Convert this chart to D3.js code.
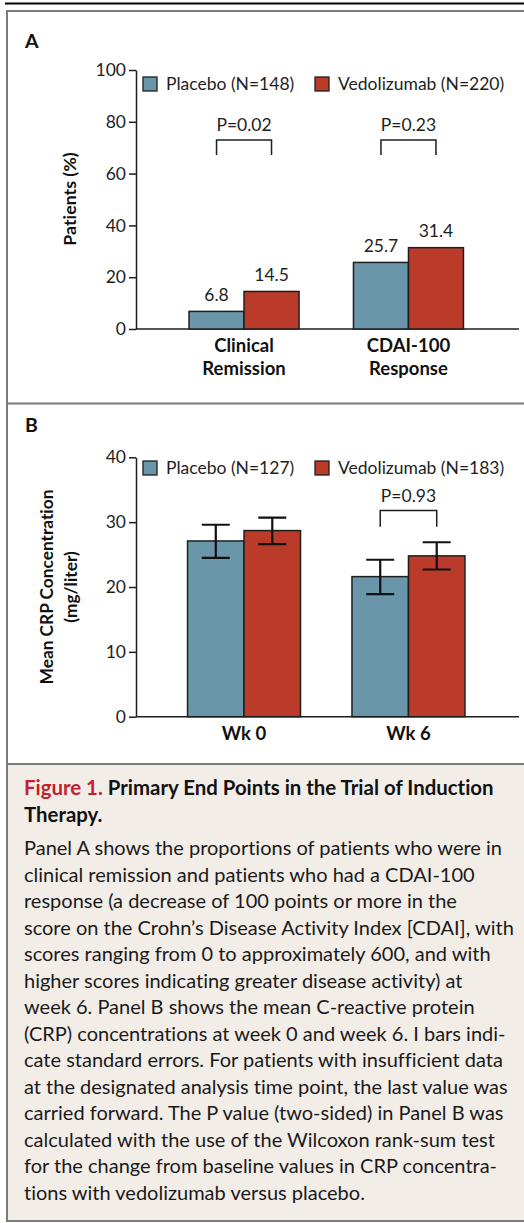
<!DOCTYPE html>
<html>
<head>
<meta charset="utf-8">
<script src="https://cdn.jsdelivr.net/npm/d3@7"></script>
<style>
  body { margin: 0; background: #fff; }
  svg { display: block; font-family: Lato, "Open Sans", sans-serif; font-variant-ligatures: none; }
</style>
</head>
<body>
<svg id="fig" width="524" height="1223"></svg>
<script>
// panel A data
const groupsA = ["Clinical|Remission", "CDAI-100|Response"];
const placeboA = [6.8, 25.7];
const vedoA = [14.5, 31.4];
const pA = ["P=0.02", "P=0.23"];
const ticksA = [0, 20, 40, 60, 80, 100];
const legendA = ["Placebo (N=148)", "Vedolizumab (N=220)"];

// panel B data
const groupsB = ["Wk 0", "Wk 6"];
const placeboB = [27.1, 21.6];
const placeboLoB = [24.5, 18.9];
const placeboHiB = [29.6, 24.2];
const vedoB = [28.7, 24.8];
const vedoLoB = [26.6, 22.7];
const vedoHiB = [30.7, 26.9];
const pB = ["", "P=0.93"];
const ticksB = [0, 10, 20, 30, 40];
const legendB = ["Placebo (N=127)", "Vedolizumab (N=183)"];

const caption = [
  "Panel A shows the proportions of patients who were in",
  "clinical remission and patients who had a CDAI-100",
  "response (a decrease of 100 points or more in the",
  "score on the Crohn\u2019s Disease Activity Index [CDAI], with",
  "scores ranging from 0 to approximately 600, and with",
  "higher scores indicating greater disease activity) at",
  "week 6. Panel B shows the mean C-reactive protein",
  "(CRP) concentrations at week 0 and week 6. I bars indi-",
  "cate standard errors. For patients with insufficient data",
  "at the designated analysis time point, the last value was",
  "carried forward. The P value (two-sided) in Panel B was",
  "calculated with the use of the Wilcoxon rank-sum test",
  "for the change from baseline values in CRP concentra-",
  "tions with vedolizumab versus placebo."
];

const BLUE = "#6a96a9";
const RED = "#bb3b2a";
const INK = "#1e1e1e";
const FRAME = "#7b7b7b";
const FS = 17.5;

const svg = d3.select("#fig");

// frame
svg.append("line").attr("x1", 5).attr("x2", 524).attr("y1", 3.5).attr("y2", 3.5)
  .attr("stroke", "#000").attr("stroke-width", 2);
svg.append("rect").attr("x", 7).attr("y", 764).attr("width", 530).attr("height", 457)
  .attr("fill", "#f3ede8");
svg.append("rect").attr("x", 7).attr("y", 11).attr("width", 530).attr("height", 1210)
  .attr("fill", "none").attr("stroke", FRAME).attr("stroke-width", 2);
[403.5, 764].forEach(yy => {
  svg.append("line").attr("x1", 7).attr("x2", 524).attr("y1", yy).attr("y2", yy)
    .attr("stroke", FRAME).attr("stroke-width", 2);
});

function panel(opt) {
  const g = svg.append("g");
  const y = d3.scaleLinear().domain([0, opt.max]).range([opt.y0, opt.y1]);
  const x = d3.scalePoint().domain(opt.groups).range([136, 516.5]).padding(0.657);
  const s = d3.scaleBand().domain(["placebo", "vedo"]).range([-opt.bw, opt.bw]);

  g.append("text").attr("x", 25).attr("y", opt.labelY).text(opt.letter)
    .attr("font-weight", "bold").attr("font-size", 19.5).attr("fill", "#111");

  const ax = g.append("g").attr("transform", "translate(136,0)")
    .call(d3.axisLeft(y).tickValues(opt.ticks).tickSize(7).tickSizeOuter(0).tickPadding(3));
  ax.attr("font-family", null).attr("font-size", null);
  ax.selectAll("path, line").attr("stroke", INK).attr("stroke-width", 1.5);
  ax.selectAll("text").attr("font-size", FS).attr("fill", INK);

  g.append("line").attr("x1", 136).attr("x2", 519).attr("y1", y(0)).attr("y2", y(0))
    .attr("stroke", INK).attr("stroke-width", 1.5);

  const rows = opt.groups.map((c, i) => ({ c, i }));
  const series = [
    { key: "placebo", vals: opt.placebo, lo: opt.placeboLo, hi: opt.placeboHi, fill: BLUE },
    { key: "vedo", vals: opt.vedo, lo: opt.vedoLo, hi: opt.vedoHi, fill: RED }
  ];
  series.forEach(se => {
    g.selectAll(".bar-" + se.key).data(rows).enter().append("rect")
      .attr("x", d => x(d.c) + s(se.key))
      .attr("width", s.bandwidth())
      .attr("y", d => y(se.vals[d.i]))
      .attr("height", d => y(0) - y(se.vals[d.i]))
      .attr("fill", se.fill).attr("stroke", INK).attr("stroke-width", 1.5);

    if (opt.values) {
      g.selectAll(".val-" + se.key).data(rows).enter().append("text")
        .attr("x", d => x(d.c) + s(se.key) + s.bandwidth() / 2)
        .attr("y", d => y(se.vals[d.i]) - 10.5)
        .attr("text-anchor", "middle").attr("font-size", FS).attr("fill", INK)
        .text(d => se.vals[d.i].toFixed(1));
    }
    if (se.lo) {
      rows.forEach(d => {
        const cx = x(d.c) + s(se.key) + s.bandwidth() / 2;
        const path = d3.path();
        path.moveTo(cx, y(se.lo[d.i])); path.lineTo(cx, y(se.hi[d.i]));
        path.moveTo(cx - 14, y(se.hi[d.i])); path.lineTo(cx + 14, y(se.hi[d.i]));
        path.moveTo(cx - 14, y(se.lo[d.i])); path.lineTo(cx + 14, y(se.lo[d.i]));
        g.append("path").attr("d", path.toString()).attr("fill", "none")
          .attr("stroke", "#111").attr("stroke-width", 2.2);
      });
    }
  });

  // p-value brackets
  rows.filter(d => opt.p[d.i]).forEach(d => {
    const xl = x(d.c) + s("placebo") + s.bandwidth() / 2;
    const xr = x(d.c) + s("vedo") + s.bandwidth() / 2;
    const top = y(opt.brTop), bot = y(opt.brBot);
    g.append("path").attr("d", `M${xl},${bot}V${top}H${xr}V${bot}`)
      .attr("fill", "none").attr("stroke", INK).attr("stroke-width", 1.5);
    g.append("text").attr("x", (xl + xr) / 2).attr("y", top - 8.5)
      .attr("text-anchor", "middle").attr("font-size", FS).attr("fill", INK)
      .text(opt.p[d.i]);
  });

  // category labels
  rows.forEach(d => {
    d.c.split("|").forEach((line, k) => {
      g.append("text").attr("x", x(d.c)).attr("y", opt.catY + k * 23)
        .attr("text-anchor", "middle").attr("font-weight", "bold")
        .attr("font-size", 18.5).attr("fill", "#111").text(line);
    });
  });

  // legend
  const lx = [143, 315];
  opt.legend.forEach((t, k) => {
    g.append("rect").attr("x", lx[k]).attr("y", opt.legY - 7).attr("width", 14).attr("height", 14)
      .attr("fill", k ? RED : BLUE).attr("stroke", INK).attr("stroke-width", 1.3);
    g.append("text").attr("x", lx[k] + 23).attr("y", opt.legY + 6)
      .attr("font-size", FS).attr("fill", INK).text(t);
  });

  // y label
  opt.ylabel.forEach((t, k) => {
    g.append("text").attr("transform", `translate(${opt.ylabX[k]},${opt.ylabY}) rotate(-90)`)
      .attr("text-anchor", "middle").attr("font-weight", "bold").attr("font-size", opt.ylabFs)
      .attr("fill", "#111").text(t);
  });
}

panel({
  letter: "A", labelY: 48, groups: groupsA, max: 100, y0: 329, y1: 70, bw: 55,
  ticks: ticksA, placebo: placeboA, vedo: vedoA, values: true,
  p: pA, brTop: 73, brBot: 67.2, catY: 352, legend: legendA, legY: 84,
  ylabel: ["Patients (%)"], ylabX: [75.5], ylabY: 199, ylabFs: 17.8
});

panel({
  letter: "B", labelY: 432, groups: groupsB, max: 40, y0: 716.7, y1: 457.3, bw: 56.5,
  ticks: ticksB, placebo: placeboB, vedo: vedoB, values: false,
  placeboLo: placeboLoB, placeboHi: placeboHiB, vedoLo: vedoLoB, vedoHi: vedoHiB,
  p: pB, brTop: 31.8, brBot: 29.3, catY: 739.5, legend: legendB, legY: 468,
  ylabel: ["Mean CRP Concentration", "(mg/liter)"], ylabX: [52.5, 77], ylabY: 587, ylabFs: 17.3
});

// caption
const cap = svg.append("g").attr("font-size", 20);
const title = cap.append("text").attr("x", 24).attr("y", 795).attr("font-weight", "bold")
  .attr("font-size", 20.4);
title.append("tspan").attr("fill", "#c4202f").text("Figure 1. ");
title.append("tspan").attr("fill", "#111").text("Primary End Points in the Trial of Induction");
cap.append("text").attr("x", 24).attr("y", 821.5).attr("font-weight", "bold")
  .attr("font-size", 20.4).attr("fill", "#111").text("Therapy.");
cap.selectAll(".line").data(caption).enter().append("text")
  .attr("x", 24).attr("y", (d, i) => 855 + i * 26.5)
  .attr("fill", "#1a1a1a").text(d => d);
</script>
</body>
</html>
